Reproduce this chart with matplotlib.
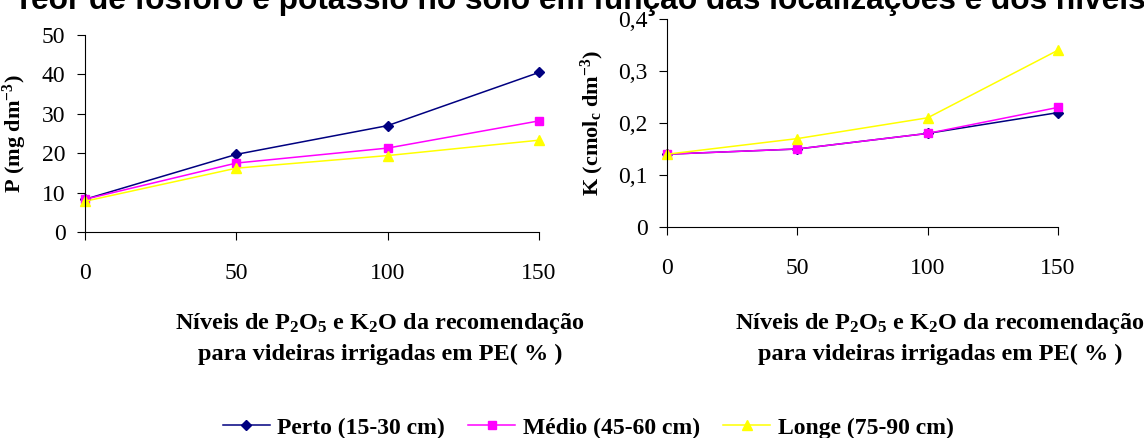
import matplotlib
matplotlib.use("Agg")
import matplotlib.pyplot as plt
from matplotlib.ticker import FuncFormatter

plt.rcParams['font.family'] = ['Liberation Serif', 'DejaVu Serif']
plt.rcParams['mathtext.fontset'] = 'custom'
plt.rcParams['mathtext.rm'] = 'Liberation Serif:bold'
plt.rcParams['mathtext.it'] = 'Liberation Serif:bold'
plt.rcParams['mathtext.bf'] = 'Liberation Serif:bold'

# data
niveis = [0, 50, 100, 150]
series_names = ["Perto (15-30 cm)", "Médio (45-60 cm)", "Longe (75-90 cm)"]
p_perto = [8.3, 19.7, 27.0, 40.5]
p_medio = [8.3, 17.5, 21.3, 28.2]
p_longe = [7.8, 16.2, 19.4, 23.3]
k_perto = [0.14, 0.15, 0.18, 0.22]
k_medio = [0.14, 0.15, 0.18, 0.23]
k_longe = [0.14, 0.17, 0.21, 0.34]
p_ticks = [0, 10, 20, 30, 40, 50]
k_ticks = [0, 0.1, 0.2, 0.3, 0.4]

colors = ["#000080", "#FF00FF", "#FFFF00"]
markers = ["D", "s", "^"]
msizes = [5, 6, 7]

W, H = 1144, 438
fig = plt.figure(figsize=(W / 100, H / 100), dpi=100)

ax1 = fig.add_axes([85 / W, 1 - 232 / H, 454 / W, 197 / H])
ax2 = fig.add_axes([667 / W, 1 - 227 / H, 391 / W, 208 / H])

xlabel = "Níveis de P$_2$O$_5$ e K$_2$O da recomendação\npara videiras irrigadas em PE( % )"

lines = []
for ax, data, yt, ylab in [
    (ax1, [p_perto, p_medio, p_longe], p_ticks, "P (mg dm$^{-3}$)"),
    (ax2, [k_perto, k_medio, k_longe], k_ticks, "K (cmol$_c$ dm$^{-3}$)"),
]:
    lines = []
    for vals, c, m, ms, name in zip(data, colors, markers, msizes, series_names):
        ln, = ax.plot(niveis, vals, color=c, marker=m, markersize=ms, lw=1.1,
                      clip_on=False, label=name)
        lines.append(ln)
    ax.set_xlim(0, 150)
    ax.set_ylim(yt[0], yt[-1])
    ax.set_xticks(niveis)
    ax.set_yticks(yt)
    for s in ["top", "right"]:
        ax.spines[s].set_visible(False)
    ax.tick_params(axis="x", direction="out", length=6, pad=16, labelsize=17)
    ax.tick_params(axis="y", direction="out", length=6, pad=8, labelsize=17)
    ax.set_ylabel(ylab, fontsize=16, fontweight="bold", labelpad=9)

ax2.yaxis.set_major_formatter(FuncFormatter(lambda v, p: "0" if v == 0 else f"{v:.1f}".replace(".", ",")))

fig.text(380 / W, 1 - 338 / H, xlabel, ha="center", va="center", fontsize=17.5,
         fontweight="bold", linespacing=1.5)
fig.text(940 / W, 1 - 338 / H, xlabel, ha="center", va="center", fontsize=17.5,
         fontweight="bold", linespacing=1.5)

fig.text(14 / W, 1 - 9 / H,
         "Teor de fósforo e potássio no solo em função das localizações e dos níveis",
         ha="left", va="baseline", fontsize=22.8, fontweight="bold",
         family=["Liberation Sans", "DejaVu Sans"])

leg = fig.legend(handles=lines, loc="center", bbox_to_anchor=(588 / W, 1 - 428 / H),
                 ncol=3, frameon=False, handlelength=2.0, handletextpad=0.3,
                 columnspacing=1.0, prop={"size": 17, "weight": "bold"})

fig.savefig("out.png", dpi=100)
